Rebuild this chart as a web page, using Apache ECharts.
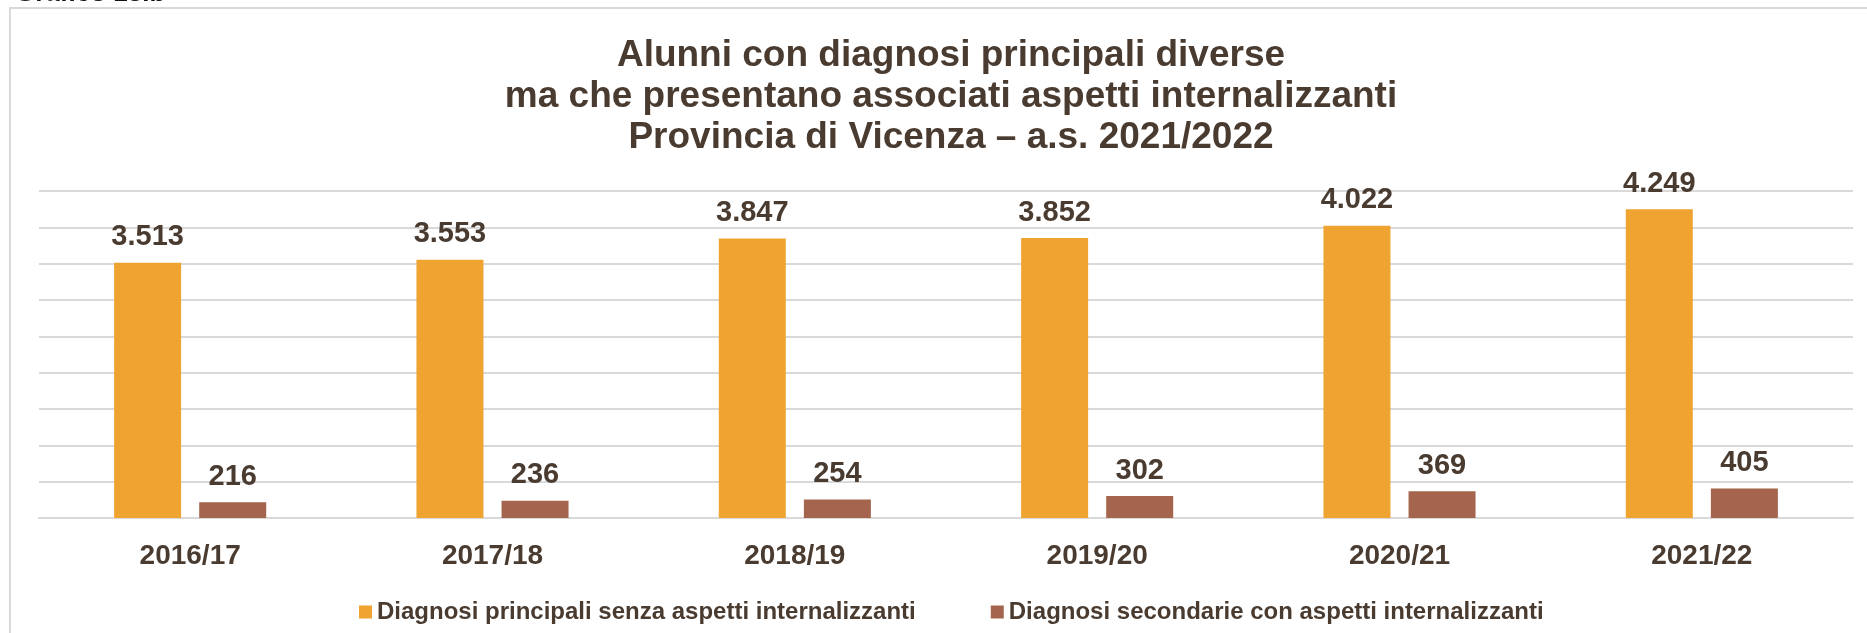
<!DOCTYPE html>
<html>
<head>
<meta charset="utf-8">
<title>Alunni con diagnosi principali diverse</title>
<script src="https://cdn.jsdelivr.net/npm/echarts@6/dist/echarts.min.js"></script>
<style>
  html, body { margin: 0; padding: 0; background: #fff; }
  #chart { width: 1867px; height: 633px; }
</style>
</head>
<body>
<div id="chart"></div>
<script>
// anni scolastici
var anni = ['2016/17', '2017/18', '2018/19', '2019/20', '2020/21', '2021/22'];
// serie
var senzaAspetti = [3513, 3553, 3847, 3852, 4022, 4249];
var conAspetti = [216, 236, 254, 302, 369, 405];
var nomiSerie = [
	'Diagnosi principali senza aspetti internalizzanti',
	'Diagnosi secondarie con aspetti internalizzanti'
];

var testo = '#4a3b30';
var font = 'Liberation Sans, Arial, sans-serif';

// separatore delle migliaia all'italiana
function formatta(v){
	return String(v).replace(/\B(?=(\d{3})+(?!\d))/g, '.');
}

var chart = echarts.init(document.getElementById('chart'));

var etichetta = {
	show: true,
	position: 'top',
	distance: 11,
	color: testo,
	fontFamily: font,
	fontWeight: 'bold',
	fontSize: 29,
	formatter: function(p){ return formatta(p.value); }
};

var option = {
	backgroundColor: '#fff',
	animation: false,
	title: {
		text: 'Alunni con diagnosi principali diverse\nma che presentano associati aspetti internalizzanti\nProvincia di Vicenza \u2013 a.s. 2021/2022',
		left: 946,
		top: 30,
		textAlign: 'center',
		textStyle: {
			color: testo,
			fontFamily: font,
			fontWeight: 'bold',
			fontSize: 37,
			lineHeight: 41
		}
	},
	graphic: [
		{
			type: 'rect',
			shape: { x: 10, y: 8, width: 1950, height: 700 },
			style: { fill: 'none', stroke: '#d9d9d9', lineWidth: 2 },
			silent: true
		},
		{
			type: 'text',
			left: 15,
			top: -19,
			style: {
				text: 'Grafico 13.b',
				fill: '#111',
				font: 'bold 26px ' + font
			},
			silent: true
		}
	],
	legend: {
		left: 354,
		top: 595,
		itemWidth: 13,
		itemHeight: 13,
		itemGap: 75,
		icon: 'rect',
		textStyle: {
			color: testo,
			fontFamily: font,
			fontWeight: 'bold',
			fontSize: 24
		},
		data: nomiSerie
	},
	grid: {
		left: 39,
		right: 14,
		top: 191,
		bottom: 115,
		containLabel: false
	},
	xAxis: {
		type: 'category',
		data: anni,
		axisLine: { lineStyle: { color: '#d9d9d9', width: 2 } },
		axisTick: { show: false },
		axisLabel: {
			margin: 24,
			color: testo,
			fontFamily: font,
			fontWeight: 'bold',
			fontSize: 28
		}
	},
	yAxis: {
		type: 'value',
		min: 0,
		max: 4500,
		interval: 500,
		axisLabel: { show: false },
		axisLine: { show: false },
		axisTick: { show: false },
		splitLine: { lineStyle: { color: '#d9d9d9', width: 2 } }
	},
	series: [
		{
			name: nomiSerie[0],
			type: 'bar',
			data: senzaAspetti,
			barWidth: 67,
			barGap: '27%',
			itemStyle: { color: '#efa330' },
			label: etichetta
		},
		{
			name: nomiSerie[1],
			type: 'bar',
			data: conAspetti,
			barWidth: 67,
			itemStyle: { color: '#a5644d' },
			label: etichetta
		}
	]
};

chart.setOption(option);

window.onresize = function(){
	chart.resize();
}
</script>
</body>
</html>
